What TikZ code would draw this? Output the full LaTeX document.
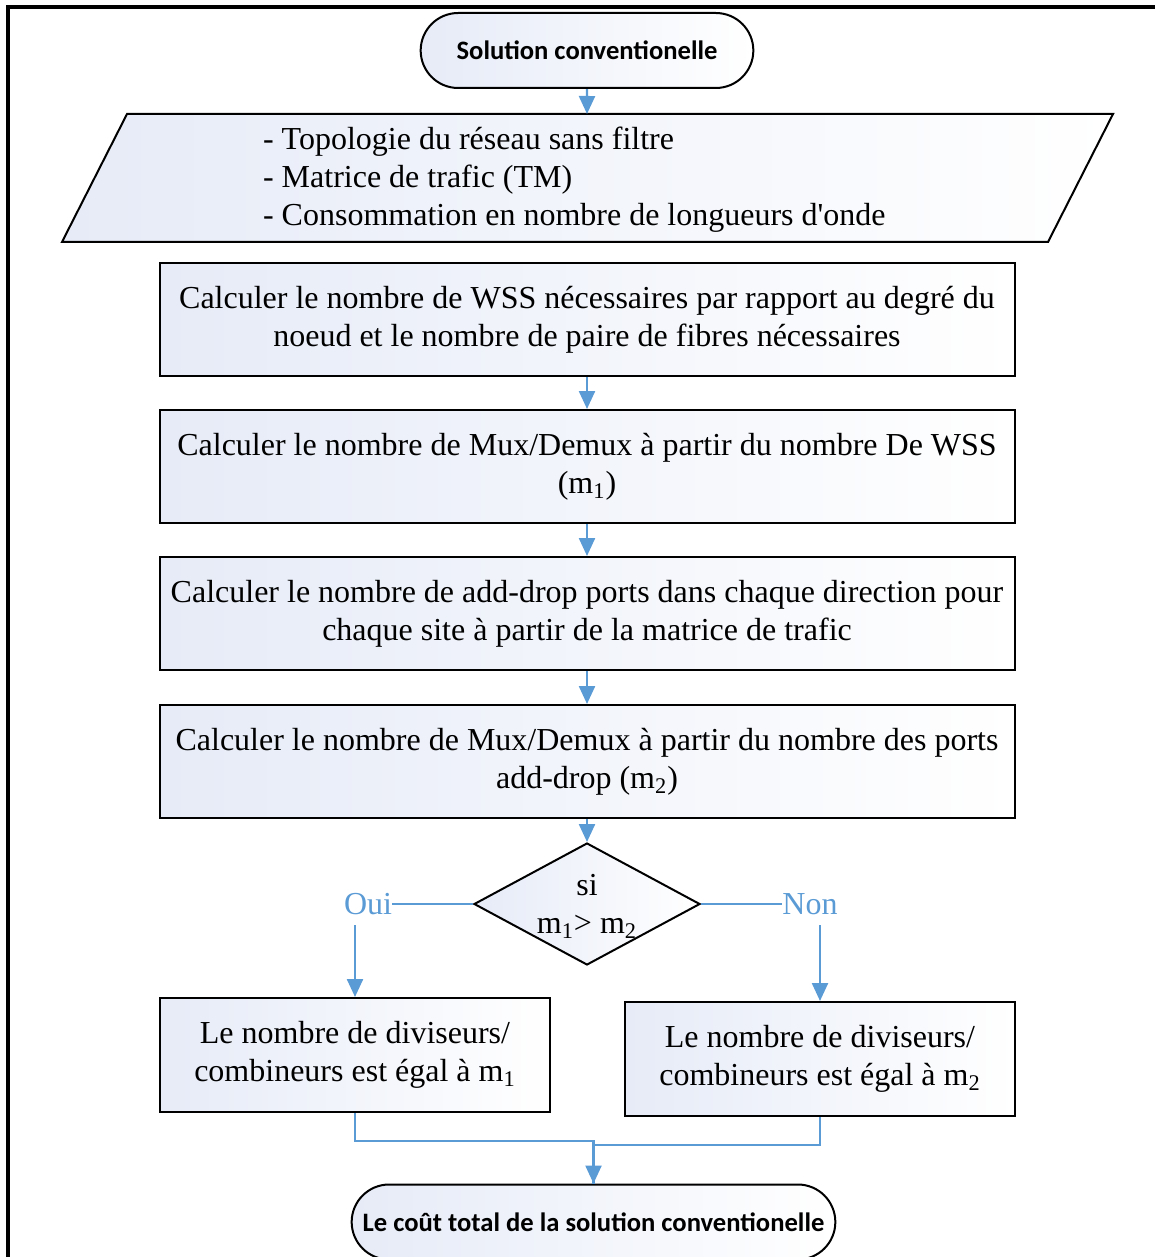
\documentclass[tikz,border=0pt]{standalone}
\usepackage{fontspec}
\setmainfont{Liberation Serif}
\newfontfamily\calibri{Carlito}
\usepackage{tikz}
\usetikzlibrary{arrows.meta,positioning,shapes.geometric,shapes.misc,calc}
\definecolor{flowblue}{RGB}{91,155,213}
\definecolor{boxblue}{RGB}{230,235,247}

\begin{document}
\begin{tikzpicture}[x=0.5pt,y=-0.5pt,
    every node/.style={font=\fontsize{16}{19}\selectfont},
    box/.style={draw,rectangle,line width=1pt,left color=boxblue,right color=white,align=center,minimum width=427.5pt,minimum height=56.5pt},
    smallbox/.style={box,minimum width=195pt,minimum height=57pt},
    term/.style={draw,rounded rectangle,line width=1pt,left color=boxblue,right color=white,minimum height=37.5pt,font=\calibri\bfseries\fontsize{13.3}{16}\selectfont},
    flow/.style={draw=flowblue,line width=1.2pt,-{Triangle[width=8pt,length=9pt]}},
    link/.style={draw=flowblue,line width=1.2pt},
    answer/.style={text=flowblue,inner xsep=0pt,inner ysep=5pt}]
    \clip (0,0) rectangle (1155,1257);
    % Frame
    \draw[line width=1.8pt] (8,1270) -- (8,7) -- (1170,7);

    % Start and input data
    \node[term,minimum width=173pt] (start) at (587,50.5) {Solution conventionelle};
    \draw[line width=1pt,left color=boxblue,right color=white] (127,114) -- (1113,114) -- (1048,242) -- (62,242) -- cycle;
    \coordinate (datatop) at (587,114);
    \node[anchor=west,align=left] (data) at (256,180) {- Topologie du réseau sans filtre\\- Matrice de trafic (TM)\\- Consommation en nombre de longueurs d\textquotesingle onde};

    % Steps
    \node[box] (wss) at (587,319.5) {Calculer le nombre de WSS nécessaires par rapport au degré du\\noeud et le nombre de paire de fibres nécessaires};
    \node[box] (mux1) at (587,466.5) {Calculer le nombre de Mux/Demux à partir du nombre De WSS\\(m\textsubscript{1})};
    \node[box] (ports) at (587,613.5) {Calculer le nombre de add-drop ports dans chaque direction pour\\chaque site à partir de la matrice de trafic};
    \node[box] (mux2) at (587,761.5) {Calculer le nombre de Mux/Demux à partir du nombre des ports\\add-drop (m\textsubscript{2})};

    % Test
    \node[draw,diamond,line width=1pt,left color=boxblue,right color=white,minimum width=113pt,minimum height=61pt,inner sep=0pt] (test) at (587,904) {};
    \node[align=center] (cond) at (587,906) {si\\m\textsubscript{1}> m\textsubscript{2}};

    % Results
    \node[smallbox] (nb1) at (355,1055) {Le nombre de diviseurs/\\combineurs est égal à m\textsubscript{1}};
    \node[smallbox] (nb2) at (820,1059) {Le nombre de diviseurs/\\combineurs est égal à m\textsubscript{2}};
    \node[term,minimum width=248.5pt] (fin) at (593.5,1222) {Le coût total de la solution conventionelle};

    % Arrows
    \draw[flow] (start) -- (datatop);
    \draw[flow] (wss) -- (mux1);
    \draw[flow] (mux1) -- (ports);
    \draw[flow] (ports) -- (mux2);
    \draw[flow] (mux2) -- (test);

    % Branches
    \node[answer] (oui) at (368,904) {Oui};
    \node[answer] (non) at (810,904) {Non};
    \draw[link] (test.west) -- (oui.east);
    \draw[link] (test.east) -- (non.west);
    \draw[flow] (oui.south -| nb1.north) -- (nb1.north);
    \draw[flow] (non.south -| nb2.north) -- (nb2.north);
    \draw[flow] (nb1.south) -- ++(0,28) -| (fin.north);
    \draw[link] (nb2.south) -- ++(0,28) -| (fin.north);
\end{tikzpicture}
\end{document}
